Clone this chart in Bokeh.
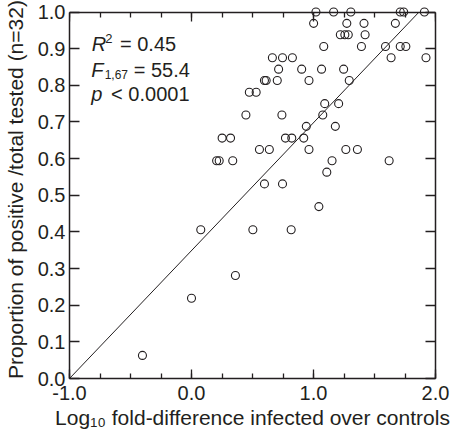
from bokeh.plotting import figure
from bokeh.models import (Range1d, LinearAxis, SingleIntervalTicker,
                          PrintfTickFormatter, Label, ColumnDataSource)
from bokeh.embed import file_html
from bokeh.resources import INLINE

# ---- data ----
log_fold = [1.02, 1.165, 1.306, 1.711, 1.739, 1.909,
            1.001, 1.273, 1.414, 1.671,
            1.22, 1.257, 1.285, 1.423,
            1.084, 1.393, 1.59, 1.711, 1.757,
            0.663, 0.746, 0.827, 1.636, 1.922,
            0.714, 0.903, 1.066, 1.247,
            0.598, 0.612, 0.703, 0.963, 1.293,
            0.474, 0.53,
            1.092, 1.206,
            0.446, 0.741, 1.076,
            0.941, 1.179,
            0.77, 0.822, 0.92, 0.251, 0.32,
            0.557, 0.638, 0.963, 1.265, 1.36,
            1.152, 1.62, 0.206, 0.227, 0.338,
            1.109,
            0.598, 0.746,
            1.044,
            0.503, 0.817, 0.076,
            0.36,
            0.0,
            -0.402]
proportion = [1.0, 1.0, 1.0, 1.0, 1.0, 1.0,
              0.969, 0.969, 0.969, 0.969,
              0.938, 0.938, 0.938, 0.938,
              0.906, 0.906, 0.906, 0.906, 0.906,
              0.875, 0.875, 0.875, 0.875, 0.875,
              0.844, 0.844, 0.844, 0.844,
              0.813, 0.813, 0.813, 0.813, 0.813,
              0.781, 0.781,
              0.75, 0.75,
              0.719, 0.719, 0.719,
              0.688, 0.688,
              0.656, 0.656, 0.656, 0.656, 0.656,
              0.625, 0.625, 0.625, 0.625, 0.625,
              0.594, 0.594, 0.594, 0.594, 0.594,
              0.563,
              0.531, 0.531,
              0.469,
              0.406, 0.406, 0.406,
              0.281,
              0.219,
              0.063]
fit_intercept = 0.349
fit_slope = 0.349
fit_x = [-1.0, (1.0 - fit_intercept) / fit_slope]
fit_y = [fit_intercept + fit_slope * v for v in fit_x]

x_lo, x_hi = -1.0, 2.0
y_lo, y_hi = 0.0, 1.0
x_ticks_interval = 1.0
y_ticks_interval = 0.1

INK = "#231f20"
FONT = "Liberation Sans"

# room above y = 1.0 so the top-row circles and the "1.0" label are not cut
top_pad = 11.5 / 366.5

p = figure(width=451, height=436,
           x_range=Range1d(x_lo, x_hi), y_range=Range1d(y_lo, y_hi + top_pad),
           output_backend="svg", toolbar_location=None,
           min_border_left=66, min_border_top=0, min_border_right=16,
           min_border_bottom=58)
p.grid.visible = False
p.outline_line_color = None
p.background_fill_color = "white"
p.border_fill_color = "white"

def style_axis(ax, tick_in, minor_in, labels=True):
    ax.axis_line_color = INK
    ax.axis_line_width = 1.5
    ax.major_tick_line_color = INK
    ax.major_tick_line_width = 1.3
    ax.minor_tick_line_color = INK
    ax.minor_tick_line_width = 1.3
    ax.major_tick_in = tick_in
    ax.major_tick_out = 0
    ax.minor_tick_in = minor_in
    ax.minor_tick_out = 0
    if labels:
        ax.major_label_text_font = FONT
        ax.major_label_text_font_size = "20px"
        ax.major_label_text_color = INK
    else:
        ax.major_label_text_color = None
        ax.major_label_text_font_size = "0px"
        ax.major_label_standoff = 0

# bottom axis
xa = p.xaxis[0]
xa.ticker = SingleIntervalTicker(interval=x_ticks_interval, num_minor_ticks=4)
xa.formatter = PrintfTickFormatter(format="%.1f")
style_axis(xa, 9, 5)
xa.major_label_standoff = 7
xa.axis_label = "Log\u2081\u2080 fold-difference infected over controls"
xa.axis_label_text_font = FONT
xa.axis_label_text_font_size = "21px"
xa.axis_label_text_font_style = "normal"
xa.axis_label_text_color = INK
xa.axis_label_standoff = 3

# left axis
ya = p.yaxis[0]
ya.ticker = SingleIntervalTicker(interval=y_ticks_interval, num_minor_ticks=0)
ya.formatter = PrintfTickFormatter(format="%.1f")
ya.bounds = (y_lo, y_hi)
style_axis(ya, 10, 0)
ya.major_label_standoff = 4
ya.axis_label = "Proportion of positive /total tested (n=32)"
ya.axis_label_text_font = FONT
ya.axis_label_text_font_size = "21px"
ya.axis_label_text_font_style = "normal"
ya.axis_label_text_color = INK
ya.axis_label_standoff = 8

# top axis (ticks only) at y = 1.0
ta = LinearAxis(ticker=SingleIntervalTicker(interval=x_ticks_interval, num_minor_ticks=4),
                fixed_location=y_hi)
style_axis(ta, 9, 5, labels=False)
p.add_layout(ta, "above")

# right axis (ticks only)
ra = LinearAxis(ticker=SingleIntervalTicker(interval=y_ticks_interval, num_minor_ticks=0),
                bounds=(y_lo, y_hi))
style_axis(ra, 10, 0, labels=False)
p.add_layout(ra, "right")

# data
src = ColumnDataSource(dict(x=log_fold, y=proportion))
p.line(fit_x, fit_y, line_color=INK, line_width=1)
p.scatter("x", "y", source=src, marker="circle", size=8,
          fill_color=None, line_color=INK, line_width=1.1)

def lab(x, y, text, size="20px", style="normal"):
    p.add_layout(Label(x=x, y=y, text=text, text_font=FONT,
                       text_font_size=size, text_font_style=style,
                       text_color=INK, text_align="left",
                       text_baseline="alphabetic"))

# statistics annotation
lab(-0.8175, 0.912, "R", style="italic")
lab(-0.706, 0.928, "2", size="13px")
lab(-0.586, 0.912, "= 0.45")
lab(-0.821, 0.843, "F", style="italic")
lab(-0.712, 0.829, "1,67", size="12px")
lab(-0.474, 0.843, "= 55.4")
lab(-0.821, 0.776, "p", style="italic")
lab(-0.659, 0.776, "< 0.0001")

open("out.html", "w").write(file_html(p, INLINE))
